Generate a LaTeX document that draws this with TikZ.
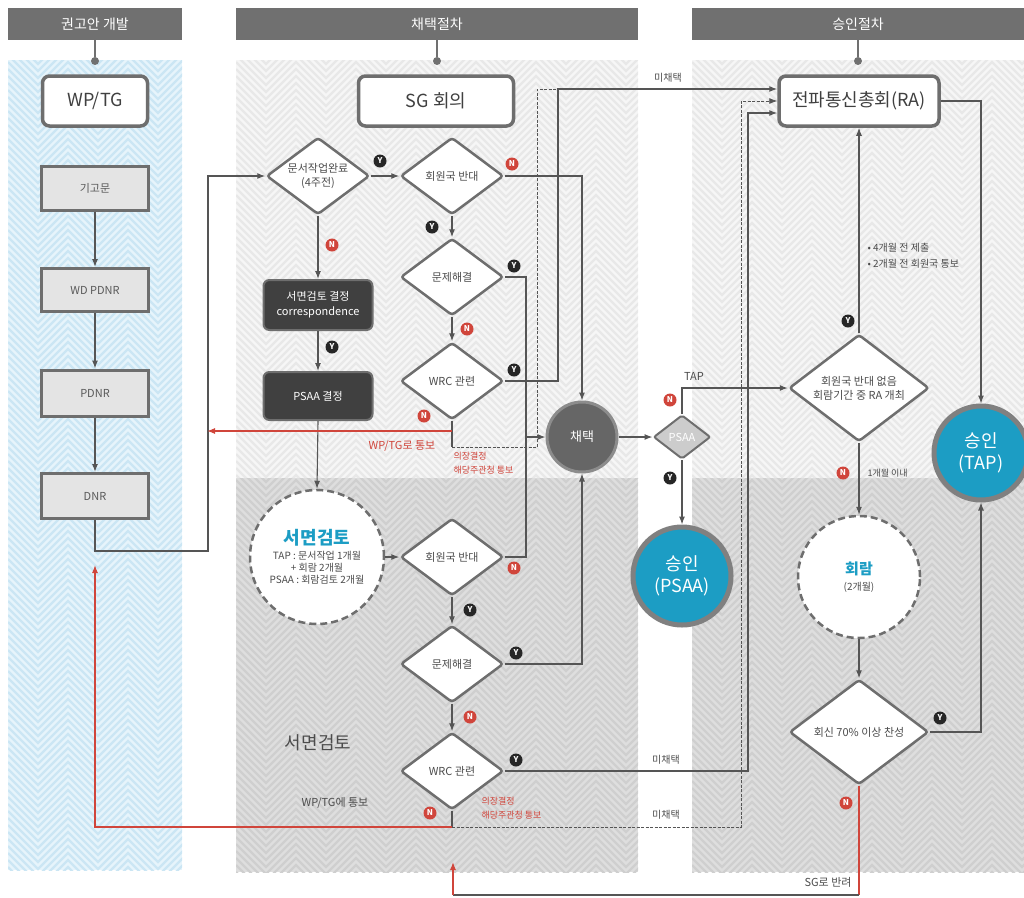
\documentclass[tikz,border=0pt]{standalone}
\usepackage{fontspec}
\setmainfont{Noto Sans CJK KR}
\usetikzlibrary{shapes.geometric,arrows.meta,positioning}

\definecolor{barGray}{HTML}{707070}
\definecolor{lineGray}{HTML}{555555}
\definecolor{edgeGray}{HTML}{6E6E6E}
\definecolor{noRed}{HTML}{D0453B}
\definecolor{tealBlue}{HTML}{1C9DC4}
\definecolor{darkBox}{HTML}{404040}
\definecolor{boxFill}{HTML}{E4E4E4}
\definecolor{paleBlue}{HTML}{E6F4FB}
\definecolor{zigBlue}{HTML}{CBE6F4}
\definecolor{paleGray}{HTML}{F6F6F6}
\definecolor{zigPale}{HTML}{E8E8E8}
\definecolor{midGray}{HTML}{DEDEDE}
\definecolor{zigMid}{HTML}{CFCFCF}

% 지그재그 배경
\newcommand{\zigpanel}[5]{%
  \begin{scope}
    \clip (#1,#2) rectangle (#3,#4);
    \pgfmathtruncatemacro{\zrows}{(#4-#2+60)/7}
    \pgfmathtruncatemacro{\zcols}{(#3-#1)/60+1}
    \foreach \k in {0,...,\zrows}
      \draw[#5, line width=2.4pt] (#1,{#2-40+7*\k}) \foreach \i in {1,...,\zcols} { -- ++(30,30) -- ++(30,-30) };
  \end{scope}}

\tikzset{
  hdrbar/.style={fill=barGray, text=white, font=\fontsize{14}{16}\selectfont, minimum height=32pt, inner sep=0pt},
  stemdot/.style={circle, fill=barGray, inner sep=0pt, minimum size=8pt},
  bigbox/.style={draw=edgeGray, line width=3.5pt, rounded corners=7pt, fill=white, text=black!75, font=\fontsize{18}{21}\selectfont, minimum height=50pt},
  docbox/.style={draw=edgeGray, line width=3pt, fill=boxFill, text=black!65, font=\fontsize{11}{13}\selectfont, minimum width=107pt, minimum height=44pt},
  darkbox/.style={draw=edgeGray, line width=2pt, rounded corners=6pt, fill=darkBox, text=white, font=\fontsize{11}{15}\selectfont, minimum width=109pt, align=center},
  decision/.style={diamond, aspect=1.35, draw=edgeGray, line width=2.5pt, rounded corners=3pt, fill=white, text=black!70, font=\fontsize{11}{14}\selectfont, inner sep=0pt, align=center, minimum width=103pt, minimum height=77pt},
  waitcircle/.style={circle, draw=edgeGray, line width=2.5pt, dash pattern=on 7pt off 4pt, fill=white, text=black!70, inner sep=0pt, align=center},
  approved/.style={circle, draw=black!50, line width=5pt, fill=tealBlue, text=white, font=\fontsize{18}{22}\selectfont, inner sep=0pt, align=center},
  flowarrow/.style={draw=lineGray, line width=1.1pt, -{Latex[length=8pt,width=6pt]}},
  linkline/.style={draw=lineGray, line width=1.1pt},
  retline/.style={draw=noRed, line width=1.1pt},
  dashline/.style={draw=lineGray, line width=0.8pt, dash pattern=on 3pt off 1.5pt},
  ymark/.style={circle, fill=black!85, text=white, font=\bfseries\fontsize{8}{8}\selectfont, inner sep=0pt, minimum size=13pt},
  nmark/.style={circle, fill=noRed, text=white, font=\bfseries\fontsize{8}{8}\selectfont, inner sep=0pt, minimum size=13pt},
  note/.style={text=black!70, font=\fontsize{10}{13}\selectfont},
  rednote/.style={text=noRed, font=\fontsize{9}{14}\selectfont, align=left},
}

\begin{document}
\begin{tikzpicture}[x=1pt, y=-1pt]
    \useasboundingbox (0,0) rectangle (1024,897);

    % 배경 패널
    \fill[paleBlue] (8,60) rectangle (182,870);
    \zigpanel{8}{60}{182}{870}{zigBlue}
    \fill[paleGray] (236,60) rectangle (638,478);
    \zigpanel{236}{60}{638}{478}{zigPale}
    \fill[midGray] (236,478) rectangle (638,872);
    \zigpanel{236}{478}{638}{872}{zigMid}
    \fill[paleGray] (692,60) rectangle (1024,478);
    \zigpanel{692}{60}{1024}{478}{zigPale}
    \fill[midGray] (692,478) rectangle (1024,872);
    \zigpanel{692}{478}{1024}{872}{zigMid}

    % 단계 제목
    \node[hdrbar, minimum width=174pt] (hdev) at (95,24) {권고안 개발};
    \node[hdrbar, minimum width=402pt] (hadopt) at (437,24) {채택절차};
    \node[hdrbar, minimum width=332pt] (happr) at (858,24) {승인절차};
    \node[stemdot] (ddev) at (95,61) {};
    \node[stemdot] (dadopt) at (437,61) {};
    \node[stemdot] (dappr) at (858,61) {};
    \draw[linkline, draw=barGray] (hdev.south) -- (ddev);
    \draw[linkline, draw=barGray] (hadopt.south) -- (dadopt);
    \draw[linkline, draw=barGray] (happr.south) -- (dappr);

    % 권고안 개발
    \node[bigbox, minimum width=105pt] (wptg) at (95,101) {WP/TG};
    \node[docbox] (kigo) at (95,188) {기고문};
    \node[docbox, minimum height=43pt] (wdpdnr) at (95,290) {WD PDNR};
    \node[docbox, minimum height=46pt] (pdnr) at (95,393) {PDNR};
    \node[docbox, minimum height=45pt] (dnr) at (95,496) {DNR};

    % 채택절차
    \node[bigbox, minimum width=155pt] (sg) at (436,101) {SG 회의};
    \node[decision] (docdone) at (318,176) {문서작업완료\\(4주전)};
    \node[decision] (opp1) at (452,176) {회원국 반대};
    \node[decision] (solve1) at (452,277) {문제해결};
    \node[decision] (wrc1) at (452,381) {WRC 관련};
    \node[darkbox, minimum height=50pt] (corr) at (318,305) {서면검토 결정\\correspondence};
    \node[darkbox, minimum height=48pt] (psaadec) at (318,396) {PSAA 결정};
    \node[waitcircle, minimum size=134pt, font=\fontsize{10}{12}\selectfont] (written) at (317,557)
        {{\color{tealBlue}\bfseries\fontsize{18}{20}\selectfont 서면검토}\\[3pt]TAP : 문서작업 1개월\\+ 회람 2개월\\PSAA : 회람검토 2개월};
    \node[decision] (opp2) at (452,557) {회원국 반대};
    \node[decision] (solve2) at (452,664) {문제해결};
    \node[decision] (wrc2) at (452,771) {WRC 관련};
    \node[text=black!70, font=\fontsize{18}{20}\selectfont] (wrlabel) at (318,743) {서면검토};
    \node[circle, fill=black!60, draw=black!45, line width=3pt, minimum size=70pt, text=white, font=\fontsize{13}{15}\selectfont] (adopt) at (582,437) {채택};

    % 승인절차
    \node[diamond, aspect=1.3, draw=edgeGray, fill=black!20, line width=2pt, rounded corners=2pt, minimum width=57pt, minimum height=44pt, inner sep=0pt, text=white, font=\fontsize{11}{13}\selectfont] (psaa) at (682,437) {PSAA};
    \node[approved, minimum size=98pt] (apsaa) at (682,576) {승인\\(PSAA)};
    \node[bigbox, minimum width=160pt] (ra) at (859,101) {전파통신총회(RA)};
    \node[decision, minimum width=140pt, minimum height=107pt] (raq) at (859,388) {회원국 반대 없음\\회람기간 중 RA 개최};
    \node[waitcircle, minimum size=122pt, font=\fontsize{10}{12}\selectfont] (circ) at (859,577)
        {{\color{tealBlue}\bfseries\fontsize{15}{18}\selectfont 회람}\\[4pt](2개월)};
    \node[decision, minimum width=139pt, minimum height=105pt] (vote) at (859,732) {회신 70\% 이상 찬성};
    \node[approved, minimum size=94pt] (atap) at (981,453) {승인\\(TAP)};
    \node[note, anchor=west, align=left] (ranote) at (864,256) {• 4개월 전 제출\\[3pt]• 2개월 전 회원국 통보};

    % 연결점
    \coordinate (dnrturn) at (208,551);
    \coordinate (mergeA) at (526,437);
    \coordinate (upY) at (558,89);
    \coordinate (wrc1turn) at (452,431);
    \coordinate (wrc1dash) at (452,447);
    \coordinate (redend1) at (207,431);
    \coordinate (dashtop1) at (537,89);
    \coordinate (lowY) at (748,113);
    \coordinate (wrc2turn) at (452,827);
    \coordinate (redend2) at (95,565);
    \coordinate (dashtop2) at (741,101);
    \coordinate (sgturn) at (859,895);
    \coordinate (sgleft) at (453,895);
    \coordinate (sgend) at (453,862);

    % 흐름
    \draw[flowarrow] (kigo) -- (wdpdnr);
    \draw[flowarrow] (wdpdnr) -- (pdnr);
    \draw[flowarrow] (pdnr) -- (dnr);
    \draw[flowarrow] (dnr.south) |- (dnrturn) |- (docdone.west);
    \draw[flowarrow] (docdone) -- (opp1);
    \draw[flowarrow] (docdone) -- (corr);
    \draw[flowarrow] (corr) -- (psaadec);
    \draw[flowarrow] (psaadec.south) -- (written.north);
    \draw[flowarrow] (opp1) -- (solve1);
    \draw[flowarrow] (solve1) -- (wrc1);
    \draw[flowarrow] (opp1.east) -| (adopt.north);
    \draw[linkline] (solve1.east) -| (mergeA);
    \draw[linkline] (opp2.east) -| (mergeA);
    \draw[flowarrow] (mergeA) -- (adopt.west);
    \draw[flowarrow] (solve2.east) -| (adopt.south);
    \draw[flowarrow] (wrc1.east) -| (upY) -- ([yshift=12pt]ra.west);
    \draw[linkline] (wrc1.south) -- (wrc1dash);
    \draw[flowarrow, draw=noRed] (wrc1turn) -- (redend1);
    \draw[dashline] (wrc1dash) -| (dashtop1) -- (upY);
    \draw[flowarrow] (written) -- (opp2);
    \draw[flowarrow] (opp2) -- (solve2);
    \draw[flowarrow] (solve2) -- (wrc2);
    \draw[flowarrow] (wrc2.east) -| (lowY) -- ([yshift=-12pt]ra.west);
    \draw[linkline] (wrc2.south) -- (wrc2turn);
    \draw[flowarrow, draw=noRed] (wrc2turn) -| (redend2);
    \draw[dashline, -{Latex[length=8pt,width=6pt]}] (wrc2turn) -| (dashtop2) -- (ra.west);
    \draw[flowarrow] (adopt) -- (psaa);
    \draw[flowarrow] (psaa.north) |- (raq.west);
    \draw[flowarrow] (psaa) -- (apsaa);
    \draw[flowarrow] (raq) -- (ra);
    \draw[flowarrow] (ra.east) -| (atap.north);
    \draw[flowarrow] (raq) -- (circ);
    \draw[flowarrow] (circ) -- (vote);
    \draw[flowarrow] (vote.east) -| (atap.south);
    \draw[retline] (vote.south) -- (sgturn);
    \draw[linkline] (sgturn) -- (sgleft);
    \draw[flowarrow, draw=noRed] (sgleft) -- (sgend);

    % Y / N 표시
    \node[ymark] (y1) at (380,161) {Y};
    \node[ymark] (y2) at (432,227) {Y};
    \node[ymark] (y3) at (514,266) {Y};
    \node[ymark] (y4) at (514,370) {Y};
    \node[ymark] (y5) at (332,347) {Y};
    \node[ymark] (y6) at (470,610) {Y};
    \node[ymark] (y7) at (516,653) {Y};
    \node[ymark] (y8) at (516,760) {Y};
    \node[ymark] (y9) at (670,478) {Y};
    \node[ymark] (y10) at (848,321) {Y};
    \node[ymark] (y11) at (940,718) {Y};
    \node[nmark] (n1) at (332,245) {N};
    \node[nmark] (n2) at (512,164) {N};
    \node[nmark] (n3) at (467,329) {N};
    \node[nmark] (n4) at (424,416) {N};
    \node[nmark] (n5) at (514,568) {N};
    \node[nmark] (n6) at (470,717) {N};
    \node[nmark] (n7) at (430,813) {N};
    \node[nmark] (n8) at (670,400) {N};
    \node[nmark] (n9) at (843,473) {N};
    \node[nmark] (n10) at (846,803) {N};

    % 설명
    \node[text=noRed, font=\fontsize{11}{13}\selectfont] (tell1) at (402,446) {WP/TG로 통보};
    \node[rednote, anchor=north west] (chair1) at (450,449) {의장결정\\해당주관청 통보};
    \node[rednote, anchor=north west] (chair2) at (478,794) {의장결정\\해당주관청 통보};
    \node[note, font=\fontsize{11}{13}\selectfont] (tell2) at (335,803) {WP/TG에 통보};
    \node[note] (rej1) at (668,78) {미채택};
    \node[note] (rej2) at (666,760) {미채택};
    \node[note] (rej3) at (666,815) {미채택};
    \node[note, font=\fontsize{11}{13}\selectfont] (taplbl) at (694,376) {TAP};
    \node[note, font=\fontsize{9}{11}\selectfont, anchor=west] (month1) at (864,473) {1개월 이내};
    \node[note, font=\fontsize{11}{13}\selectfont] (sgback) at (828,882) {SG로 반려};
\end{tikzpicture}
\end{document}
